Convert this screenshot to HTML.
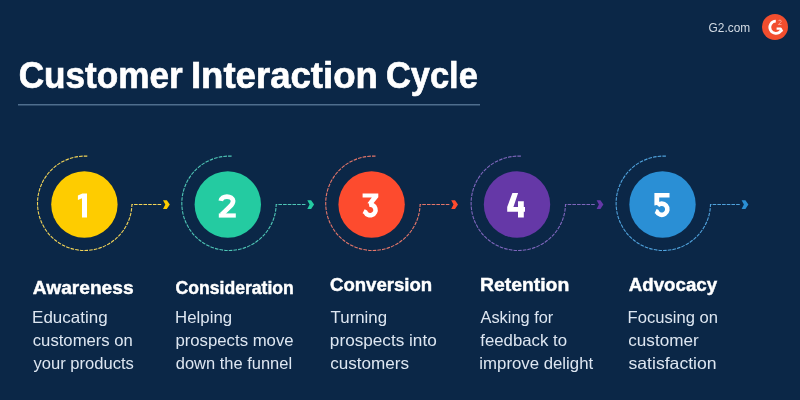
<!DOCTYPE html>
<html><head><meta charset="utf-8"><style>
html,body{margin:0;padding:0;}
body{width:800px;height:400px;background:#0b2747;position:relative;overflow:hidden;}
svg{position:absolute;left:0;top:0;font-family:"Liberation Sans",sans-serif;will-change:transform;}
</style></head><body>
<svg width="800" height="400" viewBox="0 0 800 400">
<rect x="18" y="104" width="462" height="1.5" fill="#4f6e8e"/>
<circle cx="775" cy="27" r="13" fill="#f24e2e"/>
<path d="M775.8,21.2 A6.1,6.1 0 1 0 780.9,30.8" fill="none" stroke="#fff" stroke-width="2.7"/>
<path d="M776.6,28.6 L780.6,28.6 L782.2,31.6" fill="none" stroke="#fff" stroke-width="2.3" stroke-linejoin="round"/>
<path d="M778.4,21.1 C778.6,19.8 781.4,19.8 781.3,21.3 C781.2,22.4 779.3,23.1 778.4,24.5 L781.6,24.5" fill="none" stroke="#fff" stroke-width="0.8" opacity="0.55"/>
<path d="M87.30,156.17 A47.2,47.2 0 1 0 131.90,204.50 L161.20,204.50" fill="none" stroke="#f2d458" stroke-width="1.1" stroke-dasharray="3.6 1.1"/><path d="M163.00,200.20 L166.80,200.20 L169.80,204.50 L166.80,208.90 L163.00,208.90 L165.30,204.50 Z" fill="#fecc00"/><circle cx="84.4" cy="204.5" r="33.2" fill="#fecc00"/><path d="M77.9,195.6 L82.4,193.6 L87,193.6 L87,217.4 L82,217.4 L82,198.2 L77.9,200 Z" fill="#fff"/><path d="M231.60,156.17 A47.2,47.2 0 1 0 276.20,204.50 L305.50,204.50" fill="none" stroke="#4fc6b6" stroke-width="1.1" stroke-dasharray="3.6 1.1"/><path d="M307.30,200.20 L311.10,200.20 L314.10,204.50 L311.10,208.90 L307.30,208.90 L309.60,204.50 Z" fill="#24cba1"/><circle cx="227.8" cy="204.5" r="33.2" fill="#24cba1"/><path d="M220.8,200.9 A6.2,5 0 0 1 233.1,200.9 C233.1,203.2 231.8,204.8 229.6,206.9 L221.6,214.6" fill="none" stroke="#fff" stroke-width="4.7"/><rect x="218.8" y="213.4" width="17" height="4.2" fill="#fff"/><path d="M375.50,156.17 A47.2,47.2 0 1 0 420.10,204.50 L449.40,204.50" fill="none" stroke="#e4766a" stroke-width="1.1" stroke-dasharray="3.6 1.1"/><path d="M451.20,200.20 L455.00,200.20 L458.00,204.50 L455.00,208.90 L451.20,208.90 L453.50,204.50 Z" fill="#fd4b2e"/><circle cx="371.6" cy="204.5" r="33.2" fill="#fd4b2e"/><path d="M362.6,193.4 L378.3,193.4 L378.3,197.3 L373.4,203.2 L367.4,203.2 L371.8,197.6 L362.6,197.6 Z" fill="#fff"/><path d="M369,204.8 A5.3,5.3 0 1 1 365.4,212.2 L363.6,211.3" fill="none" stroke="#fff" stroke-width="4.6"/><path d="M520.90,156.17 A47.2,47.2 0 1 0 565.50,204.50 L594.80,204.50" fill="none" stroke="#7e66bc" stroke-width="1.1" stroke-dasharray="3.6 1.1"/><path d="M596.60,200.20 L600.40,200.20 L603.40,204.50 L600.40,208.90 L596.60,208.90 L598.90,204.50 Z" fill="#6538a7"/><circle cx="517.0" cy="204.5" r="33.2" fill="#6538a7"/><path d="M512.4,193 L518.1,193 L513.4,206.9 L518,206.9 L518,201.3 L523.8,201.3 L523.8,206.9 L525,206.9 L525,211.8 L523.8,211.8 L523.8,217.4 L518,217.4 L518,211.8 L507.2,211.8 L507.2,206.9 Z" fill="#fff"/><path d="M665.90,156.17 A47.2,47.2 0 1 0 710.50,204.50 L739.80,204.50" fill="none" stroke="#50a2dc" stroke-width="1.1" stroke-dasharray="3.6 1.1"/><path d="M741.60,200.20 L745.40,200.20 L748.40,204.50 L745.40,208.90 L741.60,208.90 L743.90,204.50 Z" fill="#2a8fd5"/><circle cx="662.5" cy="204.5" r="33.2" fill="#2a8fd5"/><path d="M654.4,193 L669.5,193 L669.5,197.4 L659.2,197.4 L659.2,204.5 L654.4,205.5 Z" fill="#fff"/><path d="M657.5,205.6 A5.6,5.6 0 1 1 656.7,211.6 L655.6,211.1" fill="none" stroke="#fff" stroke-width="4.6"/>
<text x="18.66" y="87.7" font-size="37.8" font-weight="bold" fill="#fff" stroke="#fff" stroke-width="0.7" textLength="164.02" lengthAdjust="spacingAndGlyphs">Customer</text><text x="190.90" y="87.7" font-size="37.8" font-weight="bold" fill="#fff" stroke="#fff" stroke-width="0.7" textLength="187.02" lengthAdjust="spacingAndGlyphs">Interaction</text><text x="385.94" y="87.7" font-size="37.8" font-weight="bold" fill="#fff" stroke="#fff" stroke-width="0.7" textLength="91.89" lengthAdjust="spacingAndGlyphs">Cycle</text><text x="708.60" y="31.9" font-size="12.3" font-weight="normal" fill="#d3dbe4" textLength="41.58" lengthAdjust="spacingAndGlyphs">G2.com</text><text x="32.75" y="293.6" font-size="19.2" font-weight="bold" fill="#fff" stroke="#fff" stroke-width="0.45" textLength="100.81" lengthAdjust="spacingAndGlyphs">Awareness</text><text x="175.50" y="293.6" font-size="19.2" font-weight="bold" fill="#fff" stroke="#fff" stroke-width="0.45" textLength="118.36" lengthAdjust="spacingAndGlyphs">Consideration</text><text x="329.96" y="290.6" font-size="19.2" font-weight="bold" fill="#fff" stroke="#fff" stroke-width="0.45" textLength="102.27" lengthAdjust="spacingAndGlyphs">Conversion</text><text x="479.93" y="290.6" font-size="19.2" font-weight="bold" fill="#fff" stroke="#fff" stroke-width="0.45" textLength="89.35" lengthAdjust="spacingAndGlyphs">Retention</text><text x="628.76" y="290.6" font-size="19.2" font-weight="bold" fill="#fff" stroke="#fff" stroke-width="0.45" textLength="88.32" lengthAdjust="spacingAndGlyphs">Advocacy</text><text x="32.11" y="323.0" font-size="16.5" font-weight="normal" fill="#dde6f1" textLength="75.49" lengthAdjust="spacingAndGlyphs">Educating</text><text x="32.79" y="345.75" font-size="16.5" font-weight="normal" fill="#dde6f1" textLength="100.09" lengthAdjust="spacingAndGlyphs">customers on</text><text x="33.46" y="368.5" font-size="16.5" font-weight="normal" fill="#dde6f1" textLength="100.34" lengthAdjust="spacingAndGlyphs">your products</text><text x="175.12" y="323.0" font-size="16.5" font-weight="normal" fill="#dde6f1" textLength="56.96" lengthAdjust="spacingAndGlyphs">Helping</text><text x="175.42" y="345.75" font-size="16.5" font-weight="normal" fill="#dde6f1" textLength="118.22" lengthAdjust="spacingAndGlyphs">prospects move</text><text x="175.81" y="368.5" font-size="16.5" font-weight="normal" fill="#dde6f1" textLength="116.29" lengthAdjust="spacingAndGlyphs">down the funnel</text><text x="330.63" y="323.0" font-size="16.5" font-weight="normal" fill="#dde6f1" textLength="56.45" lengthAdjust="spacingAndGlyphs">Turning</text><text x="329.89" y="345.75" font-size="16.5" font-weight="normal" fill="#dde6f1" textLength="106.83" lengthAdjust="spacingAndGlyphs">prospects into</text><text x="330.27" y="368.5" font-size="16.5" font-weight="normal" fill="#dde6f1" textLength="78.84" lengthAdjust="spacingAndGlyphs">customers</text><text x="480.47" y="323.0" font-size="16.5" font-weight="normal" fill="#dde6f1" textLength="72.80" lengthAdjust="spacingAndGlyphs">Asking for</text><text x="480.26" y="345.75" font-size="16.5" font-weight="normal" fill="#dde6f1" textLength="86.74" lengthAdjust="spacingAndGlyphs">feedback to</text><text x="479.38" y="368.5" font-size="16.5" font-weight="normal" fill="#dde6f1" textLength="113.74" lengthAdjust="spacingAndGlyphs">improve delight</text><text x="627.64" y="323.0" font-size="16.5" font-weight="normal" fill="#dde6f1" textLength="90.34" lengthAdjust="spacingAndGlyphs">Focusing on</text><text x="628.27" y="345.75" font-size="16.5" font-weight="normal" fill="#dde6f1" textLength="70.41" lengthAdjust="spacingAndGlyphs">customer</text><text x="628.51" y="368.5" font-size="16.5" font-weight="normal" fill="#dde6f1" textLength="88.13" lengthAdjust="spacingAndGlyphs">satisfaction</text>
</svg>
</body></html>
